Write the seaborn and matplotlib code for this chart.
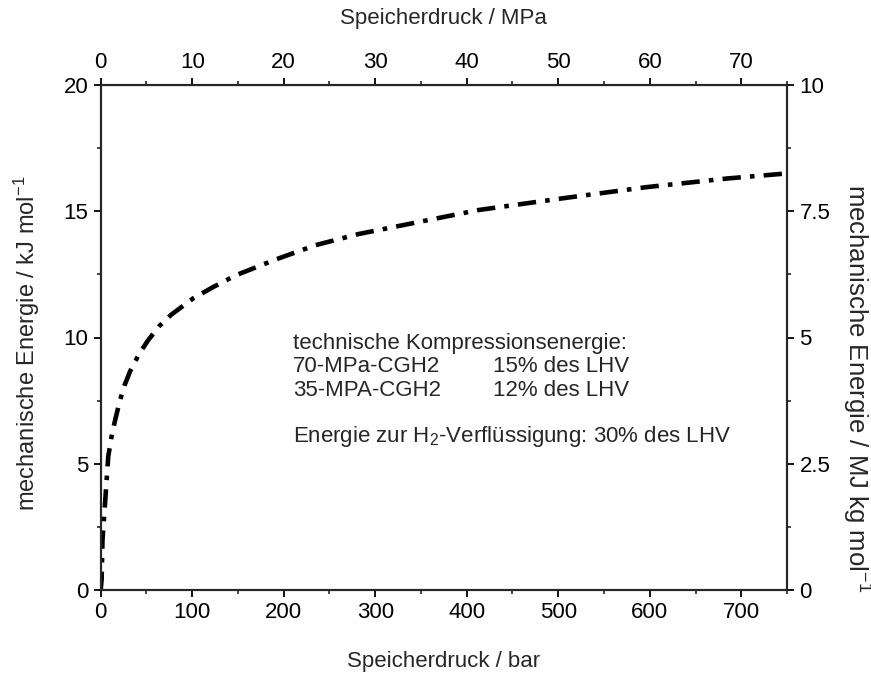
import matplotlib
matplotlib.use('Agg')
import matplotlib.pyplot as plt
from matplotlib.ticker import MultipleLocator
import seaborn as sns

# Speicherdruck in bar und mechanische Energie in kJ/mol
druck_bar = [0, 1, 2, 4.7, 8.3, 12, 15.6, 21, 26, 32, 42, 52, 64, 77, 101, 123,
             148, 192, 235, 282, 322, 413, 504, 595, 685, 750]
energie_kj = [0, 0.4, 2.0, 3.4, 5.3, 6.1, 6.7, 7.5, 8.1, 8.65, 9.35, 9.9, 10.45,
              10.9, 11.55, 12.0, 12.47, 13.1, 13.66, 14.1, 14.39, 15.05, 15.51,
              15.95, 16.3, 16.5]

left_ticks = [0, 5, 10, 15, 20]
right_ticks = [0, 2.5, 5, 7.5, 10]
right_labels = ['0', '2.5', '5', '7.5', '10']
bottom_ticks = [0, 100, 200, 300, 400, 500, 600, 700]
top_ticks = [0, 10, 20, 30, 40, 50, 60, 70]

sns.set_style('ticks')
plt.rcParams['font.family'] = ['Liberation Sans', 'DejaVu Sans']
plt.rcParams['mathtext.fontset'] = 'custom'
plt.rcParams['mathtext.rm'] = 'Liberation Sans'
plt.rcParams['mathtext.it'] = 'Liberation Sans:italic'
plt.rcParams['mathtext.bf'] = 'Liberation Sans:bold'

fs = 16
fig = plt.figure(figsize=(8.71, 6.75), dpi=100)
ax = fig.add_axes([0.1156, 0.126, 0.788, 0.748])

sns.lineplot(x=druck_bar, y=energie_kj, ax=ax, color='black', lw=3.3,
             dashes=False, sort=False)
ax.lines[0].set_dashes((4, 2, 1, 2))

ax.set_xlim(0, 750)
ax.set_ylim(0, 20)
ax.set_xticks(bottom_ticks)
ax.set_yticks(left_ticks)
ax.xaxis.set_minor_locator(MultipleLocator(50))
ax.yaxis.set_minor_locator(MultipleLocator(2.5))
ax.set_xlabel('Speicherdruck / bar', fontsize=fs, labelpad=20)
ax.set_ylabel('mechanische Energie / kJ mol$^{-1}$', fontsize=17)
ax.yaxis.set_label_coords(-0.085, 0.489)

for s in ax.spines.values():
    s.set_visible(True)
    s.set_linewidth(1.5)
    s.set_color('black')

ax.tick_params(which='major', direction='out', length=5, width=1.3,
               labelsize=fs, colors='black', pad=4)
ax.tick_params(which='minor', direction='out', length=3, width=1.2)

# rechte Achse in MJ kg mol^-1
ax_r = ax.twinx()
ax_r.set_ylim(0, 10)
ax_r.set_yticks(right_ticks)
ax_r.set_yticklabels(right_labels)
ax_r.yaxis.set_minor_locator(MultipleLocator(1.25))
ax_r.tick_params(which='major', direction='out', length=5, width=1.3,
                 labelsize=fs, colors='black', pad=4)
ax_r.tick_params(which='minor', direction='out', length=3, width=1.2)
ax_r.set_ylabel('mechanische Energie / MJ kg mol$^{-1}$', fontsize=18.5,
                rotation=270, va='center', ha='center')
ax_r.yaxis.set_label_coords(1.10, 0.40)
for s in ax_r.spines.values():
    s.set_linewidth(1.5)

# obere Achse in MPa
ax_t = ax.secondary_xaxis('top', functions=(lambda x: x / 10, lambda x: x * 10))
ax_t.set_xticks(top_ticks)
ax_t.xaxis.set_minor_locator(MultipleLocator(5))
ax_t.tick_params(which='major', direction='out', length=5, width=1.3,
                 labelsize=fs, colors='black', pad=4)
ax_t.tick_params(which='minor', direction='out', length=3, width=1.2)
ax_t.set_xlabel('Speicherdruck / MPa', fontsize=fs, labelpad=20)

tx = 0.280
ax.text(tx, 0.489, 'technische Kompressionsenergie:', transform=ax.transAxes,
        fontsize=fs, va='center')
ax.text(tx, 0.442, '70-MPa-CGH2', transform=ax.transAxes, fontsize=fs, va='center')
ax.text(0.572, 0.442, '15% des LHV', transform=ax.transAxes, fontsize=fs, va='center')
ax.text(tx, 0.396, '35-MPA-CGH2', transform=ax.transAxes, fontsize=fs, va='center')
ax.text(0.572, 0.396, '12% des LHV', transform=ax.transAxes, fontsize=fs, va='center')
ax.text(tx, 0.303, 'Energie zur H$_2$-Verflüssigung: 30% des LHV',
        transform=ax.transAxes, fontsize=fs, va='center')

fig.savefig('out.png', dpi=100, facecolor='white')
